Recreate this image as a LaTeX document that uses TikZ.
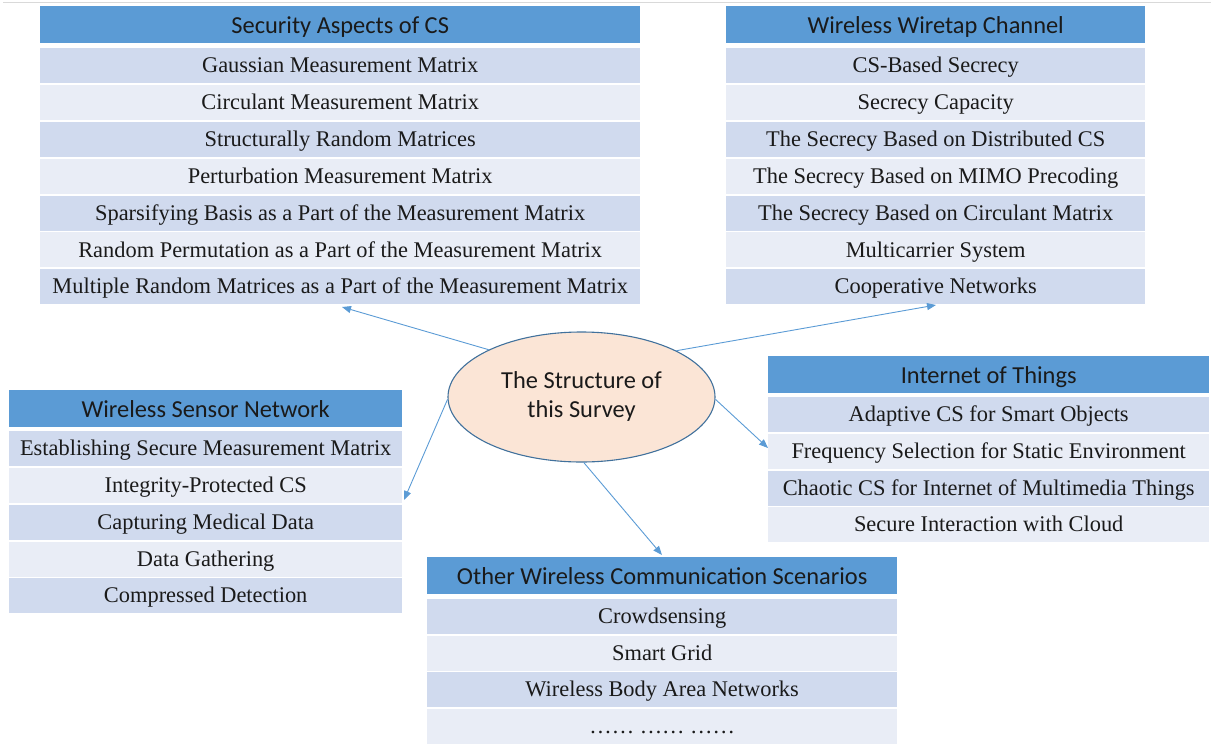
\documentclass[tikz,border=0pt]{standalone}
\usepackage{fontspec}
\setmainfont{Liberation Serif}
\newfontfamily\hdrfont{Carlito}
\usetikzlibrary{arrows.meta,shapes.geometric}
\definecolor{hdrblue}{HTML}{5B9BD5}
\definecolor{rowdark}{HTML}{D0DAEE}
\definecolor{rowlight}{HTML}{E9EDF6}
\definecolor{ellfill}{HTML}{FBE5D6}
\definecolor{elldraw}{HTML}{41719C}
\definecolor{topline}{HTML}{D9D9D9}
\definecolor{txt}{HTML}{1A1A1A}
\begin{document}
\begin{tikzpicture}[x=1pt,y=-1pt,
  hdr/.style={rectangle, fill=hdrblue, inner sep=0pt, anchor=north west, minimum height=37pt,
    text=txt, text height=20pt, text depth=3pt, font=\hdrfont\fontsize{24.4}{28}\selectfont},
  cell/.style={rectangle, inner sep=0pt, anchor=north west, minimum height=35pt,
    text=txt, text height=18pt, text depth=3.6pt, font=\fontsize{22.4}{26}\selectfont},
  rowd/.style={cell, fill=rowdark},
  rowl/.style={cell, fill=rowlight},
  arr/.style={draw=hdrblue, line width=0.9pt, -{Triangle[length=9pt,width=7pt]}}]
\useasboundingbox (0,0) rectangle (1211,745);
\coordinate (tl0) at (3,2.5);
\coordinate (tl1) at (1211,2.5);
\draw[topline, line width=1pt] (tl0) -- (tl1);

% Security Aspects of CS
\begin{scope}[every node/.append style={minimum width=600pt}]
\node[hdr] (sh) at (40,6) {Security Aspects of CS};
\node[rowd] (s1) at (40,48) {Gaussian Measurement Matrix};
\node[rowl] (s2) at (40,84.8) {Circulant Measurement Matrix};
\node[rowd] (s3) at (40,121.7) {Structurally Random Matrices};
\node[rowl] (s4) at (40,158.5) {Perturbation Measurement Matrix};
\node[rowd] (s5) at (40,195.3) {Sparsifying Basis as a Part of the Measurement Matrix};
\node[rowl] (s6) at (40,232.2) {Random Permutation as a Part of the Measurement Matrix};
\node[rowd] (s7) at (40,269) {Multiple Random Matrices as a Part of the Measurement Matrix};
\end{scope}

% Wireless Wiretap Channel
\begin{scope}[every node/.append style={minimum width=419pt}]
\node[hdr] (wh) at (726,6) {Wireless Wiretap Channel};
\node[rowd] (w1) at (726,48) {CS-Based Secrecy};
\node[rowl] (w2) at (726,84.8) {Secrecy Capacity};
\node[rowd] (w3) at (726,121.7) {The Secrecy Based on Distributed CS};
\node[rowl] (w4) at (726,158.5) {The Secrecy Based on MIMO Precoding};
\node[rowd] (w5) at (726,195.3) {The Secrecy Based on Circulant Matrix};
\node[rowl] (w6) at (726,232.2) {Multicarrier System};
\node[rowd] (w7) at (726,269) {Cooperative Networks};
\end{scope}

% Internet of Things
\begin{scope}[every node/.append style={minimum width=441pt}]
\node[hdr] (ih) at (768,356) {Internet of Things};
\node[rowd] (i1) at (768,397) {Adaptive CS for Smart Objects};
\node[rowl] (i2) at (768,433.7) {Frequency Selection for Static Environment};
\node[rowd] (i3) at (768,470.3) {Chaotic CS for Internet of Multimedia Things};
\node[rowl] (i4) at (768,507) {Secure Interaction with Cloud};
\end{scope}

% Wireless Sensor Network
\begin{scope}[every node/.append style={minimum width=393pt}]
\node[hdr] (nh) at (9,390) {Wireless Sensor Network};
\node[rowd] (n1) at (9,431) {Establishing Secure Measurement Matrix};
\node[rowl] (n2) at (9,467.8) {Integrity-Protected CS};
\node[rowd] (n3) at (9,504.5) {Capturing Medical Data};
\node[rowl] (n4) at (9,541.3) {Data Gathering};
\node[rowd] (n5) at (9,578) {Compressed Detection};
\end{scope}

% Other Wireless Communication Scenarios
\begin{scope}[every node/.append style={minimum width=470pt}]
\node[hdr] (oh) at (427,557) {Other Wireless Communication Scenarios};
\node[rowd] (o1) at (427,599) {Crowdsensing};
\node[rowl] (o2) at (427,635.5) {Smart Grid};
\node[rowd] (o3) at (427,672) {Wireless Body Area Networks};
\node[rowl] (o4) at (427,708.5) {…… …… ……};
\end{scope}

% Central ellipse
\node[ellipse, draw=elldraw, line width=1.1pt, fill=ellfill, minimum width=267pt, minimum height=130pt,
  inner sep=0pt, text=txt, font=\hdrfont\fontsize{24.4}{29}\selectfont] (ell) at (581.5,397)
  {\raisebox{-3pt}{\begin{tabular}{@{}c@{}}The Structure of\\this Survey\end{tabular}}};

% Arrow targets
\coordinate (t1) at (342,307);
\coordinate (t2) at (936,305);
\coordinate (t3) at (768,448);
\coordinate (t4) at (404,500);
\coordinate (t5) at (662,555);

\draw[arr] (ell.153) -- (t1);
\draw[arr] (ell.26) -- (t2);
\draw[arr] (ell.-1) -- (t3);
\draw[arr] (ell.181) -- (t4);
\draw[arr] (ell.-88) -- (t5);
\end{tikzpicture}
\end{document}
